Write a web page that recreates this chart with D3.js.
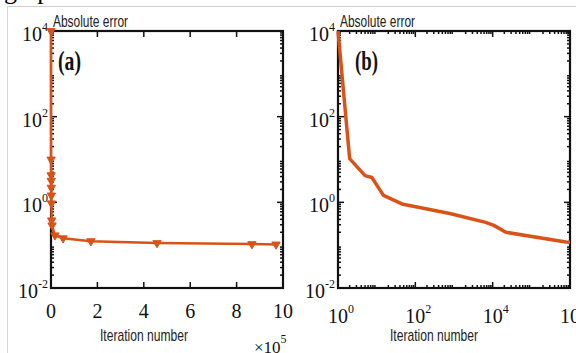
<!DOCTYPE html>
<html>
<head>
<meta charset="utf-8">
<script src="https://cdn.jsdelivr.net/npm/d3@7"></script>
<style>
    body { margin: 0; background: #fff; }
    svg { display: block; }
</style>
</head>
<body>
<div id="chart_parent"></div>
<script>
// panel (a): linear iteration axis, values in raw iterations
const iterA = [0, 300, 600, 900, 1200, 1500, 1800, 3000, 4500, 17000, 52000, 172000, 457000, 866000, 970000];
const errA = [1e4, 10, 4.3, 3.2, 2.2, 1.45, 0.95, 0.38, 0.29, 0.17, 0.145, 0.124, 0.112, 0.106, 0.104];

// panel (b): log iteration axis
const iterB = [1, 2, 5, 7.5, 15, 48, 780, 6600, 10700, 22000, 780000, 1e6];
const errB = [1e4, 10.5, 4.2, 3.8, 1.45, 0.9, 0.55, 0.34, 0.29, 0.2, 0.118, 0.117];

const xTicksA = [0, 2, 4, 6, 8, 10]; // x 10^5
const xTicksB = [0, 2, 4, 6];        // exponents
const yTicks = [-2, 0, 2, 4];        // exponents

const color = '#d95319';
const serif = '"Liberation Serif", "Times New Roman", serif';
const sans = '"Liberation Sans", Arial, sans-serif';

const svg = d3.select('#chart_parent').append('svg')
    .attr('width', 576)
    .attr('height', 353);

// page residue: clipped heading and gray frame
svg.append('text')
    .attr('x', 4).attr('y', -1)
    .attr('font-family', serif)
    .attr('font-size', 26)
    .text('graph');
svg.append('line')
    .attr('x1', 7).attr('x2', 576).attr('y1', 6.5).attr('y2', 6.5)
    .attr('stroke', '#cfcfcf');
svg.append('line')
    .attr('x1', 7.5).attr('x2', 7.5).attr('y1', 6).attr('y2', 353)
    .attr('stroke', '#d8d8d8');

function powLabel(g, x, y, exp, anchor) {
    // "10" with superscript exponent; anchor 'end' => whole label ends at x, 'middle' => "10" centred at x
    const t = g.append('text')
        .attr('font-family', serif)
        .attr('fill', '#111')
        .attr('y', y);
    t.append('tspan').attr('font-size', 20).text('10');
    t.append('tspan').attr('font-size', 12).attr('dy', -10).text(exp);
    if (anchor === 'end') {
        const w = t.node().getComputedTextLength();
        t.attr('x', x - w);
    } else {
        t.attr('x', x - 10);
    }
}

function drawPanel(cfg) {
    const g = svg.append('g');
    const { left, right, top, bottom } = cfg;

    const y = d3.scaleLog().domain([1e-2, 1e4]).range([bottom, top]);
    const x = cfg.xScale;

    // y ticks: majors + minors on both sides, inward
    const yMinor = [];
    for (let e = -2; e < 4; e++) {
        for (let m = 2; m < 10; m++) yMinor.push(m * Math.pow(10, e));
    }
    const tickG = g.append('g').attr('stroke', '#111');
    yMinor.forEach(v => {
        tickG.append('line').attr('x1', left).attr('x2', left + 3).attr('y1', y(v)).attr('y2', y(v)).attr('stroke-width', 1.5);
        tickG.append('line').attr('x1', right).attr('x2', right - 3).attr('y1', y(v)).attr('y2', y(v)).attr('stroke-width', 1.5);
    });
    yTicks.forEach(e => {
        const v = Math.pow(10, e);
        tickG.append('line').attr('x1', left).attr('x2', left + 6).attr('y1', y(v)).attr('y2', y(v)).attr('stroke-width', 1.5);
        tickG.append('line').attr('x1', right).attr('x2', right - 6).attr('y1', y(v)).attr('y2', y(v)).attr('stroke-width', 1.5);
        powLabel(g, left - 3, y(v) + 10, e, 'end');
    });

    // x ticks
    cfg.xMajor.forEach(v => {
        tickG.append('line').attr('x1', x(v)).attr('x2', x(v)).attr('y1', bottom).attr('y2', bottom - 6).attr('stroke-width', 1.5);
        tickG.append('line').attr('x1', x(v)).attr('x2', x(v)).attr('y1', top).attr('y2', top + 6).attr('stroke-width', 1.5);
    });
    (cfg.xMinor || []).forEach(v => {
        tickG.append('line').attr('x1', x(v)).attr('x2', x(v)).attr('y1', bottom).attr('y2', bottom - 3).attr('stroke-width', 1.5);
        tickG.append('line').attr('x1', x(v)).attr('x2', x(v)).attr('y1', top).attr('y2', top + 3).attr('stroke-width', 1.5);
    });
    cfg.xLabels(g, x, bottom);

    // frame
    g.append('rect')
        .attr('x', left).attr('y', top)
        .attr('width', right - left).attr('height', bottom - top)
        .attr('fill', 'none')
        .attr('stroke', '#111')
        .attr('stroke-width', 2.2);

    // series
    const pts = cfg.xs.map((v, i) => [x(v), y(cfg.ys[i])]);
    g.append('path')
        .attr('d', d3.line()(pts))
        .attr('fill', 'none')
        .attr('stroke', color)
        .attr('stroke-width', cfg.lineWidth)
        .attr('stroke-linejoin', 'round');
    if (cfg.markers) {
        g.selectAll('.mk').data(pts).enter().append('path')
            .attr('class', 'mk')
            .attr('transform', d => `translate(${d[0]},${d[1]}) rotate(180)`)
            .attr('d', d3.symbol(d3.symbolTriangle, 30)())
            .attr('fill', color)
            .attr('stroke', color)
            .attr('stroke-width', 1);
    }

    // labels
    g.append('text')
        .attr('x', left + 2).attr('y', 27)
        .attr('font-family', sans).attr('font-size', 17)
        .attr('textLength', 75).attr('lengthAdjust', 'spacingAndGlyphs')
        .attr('fill', '#222')
        .text('Absolute error');
    g.append('text')
        .attr('x', cfg.tagX).attr('y', 70)
        .attr('font-family', serif).attr('font-size', 27).attr('font-weight', 'bold')
        .attr('textLength', 23).attr('lengthAdjust', 'spacingAndGlyphs')
        .attr('fill', '#111')
        .text(cfg.tag);
    g.append('text')
        .attr('x', cfg.titleX).attr('y', 341)
        .attr('font-family', sans).attr('font-size', 17)
        .attr('textLength', 88).attr('lengthAdjust', 'spacingAndGlyphs')
        .attr('fill', '#222')
        .text('Iteration number');
}

const minorB = [];
for (let e = 0; e < 6; e++) {
    for (let m = 2; m < 10; m++) minorB.push(m * Math.pow(10, e));
}

drawPanel({
    left: 51, right: 283, top: 31, bottom: 288,
    xScale: d3.scaleLinear().domain([0, 1e6]).range([51, 283]),
    xMajor: xTicksA.map(v => v * 1e5),
    xLabels: (g, x, bottom) => {
        xTicksA.forEach(v => {
            g.append('text')
                .attr('x', x(v * 1e5)).attr('y', bottom + 30)
                .attr('text-anchor', 'middle')
                .attr('font-family', serif).attr('font-size', 20)
                .attr('fill', '#111')
                .text(v);
        });
        const t = g.append('text')
            .attr('x', 254).attr('y', 353)
            .attr('font-family', serif).attr('fill', '#111');
        t.append('tspan').attr('font-size', 17).text('\u00d710');
        t.append('tspan').attr('font-size', 12).attr('dy', -10).text('5');
    },
    xs: iterA, ys: errA,
    lineWidth: 2.5, markers: true,
    tag: '(a)', tagX: 58, titleX: 100,
});

drawPanel({
    left: 338, right: 570, top: 31, bottom: 288,
    xScale: d3.scaleLog().domain([1, 1e6]).range([338, 570]),
    xMajor: xTicksB.map(e => Math.pow(10, e)),
    xMinor: minorB,
    xLabels: (g, x, bottom) => {
        xTicksB.forEach(e => {
            powLabel(g, x(Math.pow(10, e)), bottom + 35, e, 'middle');
        });
    },
    xs: iterB, ys: errB,
    lineWidth: 3.5, markers: false,
    tag: '(b)', tagX: 355, titleX: 390,
});
</script>
</body>
</html>
